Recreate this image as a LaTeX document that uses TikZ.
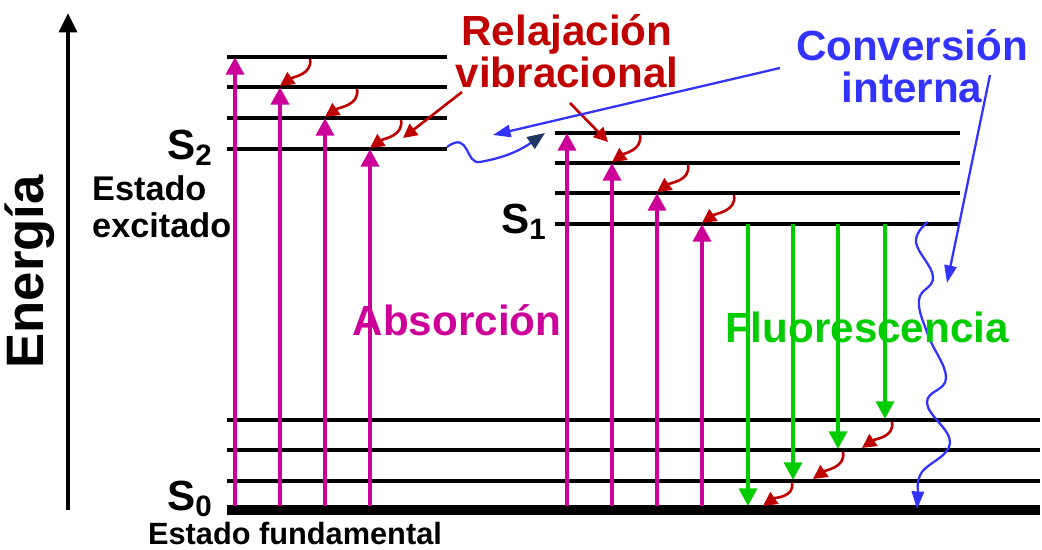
\documentclass[tikz,border=0pt]{standalone}
\usepackage{fontspec}
\setmainfont{Liberation Sans}
\usetikzlibrary{arrows.meta}
\definecolor{absmag}{HTML}{CC0099}
\definecolor{relred}{HTML}{C00000}
\definecolor{fluogreen}{HTML}{00CC00}
\definecolor{convblue}{HTML}{3333FF}
\definecolor{darknavy}{HTML}{1F3864}
\begin{document}
\begin{tikzpicture}[x=0.02cm, y=0.02cm, font=\bfseries,
    level/.style={line width=1.9pt},
    absarrow/.style={absmag, line width=2.8pt, -{Triangle[width=10pt,length=10pt]}},
    fluoarrow/.style={fluogreen, line width=2.8pt, -{Triangle[width=10pt,length=10pt]}},
    relarrow/.style={relred, line width=1.5pt, -{Triangle[width=8pt,length=8pt]}},
    convarrow/.style={convblue, line width=1.3pt, -{Triangle[width=7pt,length=10pt]}},
    big/.style={font=\bfseries\fontsize{24}{24}\selectfont}]
    \useasboundingbox (0,0) rectangle (1042,550);
    % energy axis
    \coordinate (ebot) at (68,40);
    \coordinate (etop) at (68,537);
    \draw[line width=2.6pt, -{Triangle[width=10pt,length=11pt]}] (ebot) -- (etop);
    \node[rotate=90, font=\bfseries\fontsize{30}{30}\selectfont] (energia) at (30,278) {Energía};
    % levels
    \foreach \y in {493,463,432,401} \draw[level] (227,\y) -- (447,\y);
    \foreach \y in {417,387,357,326} \draw[level] (555,\y) -- (960,\y);
    \foreach \y in {130,100,69} \draw[level] (227,\y) -- (1040,\y);
    \draw[line width=5.5pt] (227,40) -- (1040,40);
    % labels of the states
    \node[big] (s2) at (190,402) {S\textsubscript{2}};
    \node[big] (s1) at (524,328) {S\textsubscript{1}};
    \node[big, inner sep=0pt] (s0) at (190,51) {S\textsubscript{0}};
    \node[anchor=west, align=left, font=\bfseries\fontsize{19.5}{21}\selectfont]
    (excitado) at (86,343) {Estado\\excitado};
    \node[inner sep=0pt, font=\bfseries\fontsize{17.5}{17.5}\selectfont] (fundamental) at (295,16) {Estado fundamental};
    % absorption
    \foreach \i/\x/\y in {1/235/493, 2/280/463, 3/325/432, 4/370/401,
                          5/567/417, 6/612/387, 7/657/357, 8/702/326} {
        \coordinate (ab\i) at (\x,44);
        \coordinate (at\i) at (\x,\y);
        \draw[absarrow] (ab\i) -- (at\i);
    }
    % fluorescence
    \foreach \i/\x/\y in {1/748/44, 2/793/70, 3/838/101, 4/885/131} {
        \coordinate (ft\i) at (\x,326);
        \coordinate (fb\i) at (\x,\y);
        \draw[fluoarrow] (ft\i) -- (fb\i);
    }
    % vibrational relaxation
    \foreach \i/\xa/\ya/\xb/\yb in {1/310/491/280/464, 2/357/461/325/433, 3/401/430/370/402,
                                    4/640/415/612/388, 5/688/385/657/358, 6/734/355/702/327,
                                    7/892/128/862/102, 8/843/98/813/71, 9/792/67/763/44} {
        \coordinate (rs\i) at (\xa,\ya);
        \coordinate (re\i) at (\xb,\yb);
        \draw[relarrow] (rs\i) to[out=-80,in=35] (re\i);
    }
    \node[big, text=relred, align=center] (relajacion) at (567,499) {Relajación\\vibracional};
    \coordinate (rl1) at (462,458);
    \coordinate (rl2) at (403,412);
    \coordinate (rl3) at (570,447);
    \coordinate (rl4) at (608,408);
    \draw[relarrow] (rl1) -- (rl2);
    \draw[relarrow] (rl3) -- (rl4);
    % internal conversion
    \node[big, text=convblue, align=center] (conversion) at (912,484) {Conversión\\interna};
    \coordinate (cw1) at (447,403);
    \coordinate (cw2) at (480,388);
    \coordinate (cw3) at (545,417);
    \draw[convblue, line width=1.3pt] (cw1) .. controls (470,420) and (465,385) .. (cw2);
    \draw[convblue, line width=1.3pt, -{Triangle[width=8pt,length=10pt,color=darknavy]}] (cw2) to[out=10,in=215] (cw3);
    \coordinate (cv1) at (780,482);
    \coordinate (cv2) at (493,415);
    \draw[convarrow] (cv1) -- (cv2);
    \coordinate (cv3) at (990,475);
    \coordinate (cv4) at (947,267);
    \draw[convarrow] (cv3) -- (cv4);
    \coordinate (wt) at (928,328);
    \coordinate (wb) at (917,41);
    \draw[convblue, line width=1.3pt] plot[smooth, tension=0.7] coordinates
        {(wt) (916,308) (933,273) (919,250) (928,215) (946,172) (927,147) (950,107) (922,78) (918,60)};
    \draw[convarrow] (918,60) -- (wb);
    % process names
    \node[big, text=absmag] (absorcion) at (457,230) {Absorción};
    \node[big, text=fluogreen] (fluorescencia) at (867,223) {Fluorescencia};
\end{tikzpicture}
\end{document}
